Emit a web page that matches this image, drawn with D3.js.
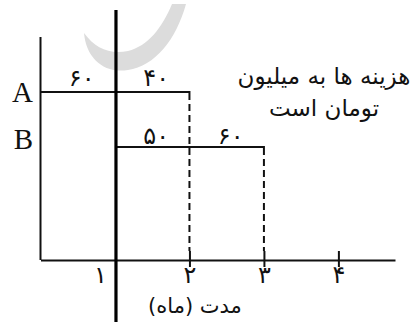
<!DOCTYPE html>
<html><head><meta charset="utf-8">
<script src="https://cdn.jsdelivr.net/npm/d3@7"></script>
<style>
html,body{margin:0;padding:0;background:#fff;}
svg{display:block;}
</style></head>
<body>
<script>
// ---- data ----
const activities = ["A", "B"];
const segStart = { A: [0, 1], B: [1, 2] };
const segEnd   = { A: [1, 2], B: [2, 3] };
const segCost  = { A: [60, 40], B: [50, 60] };
const monthTicks = [1, 2, 3, 4];
const xAxisTitle = "مدت (ماه)";
const noteLines = ["هزینه ها به میلیون", "تومان است"];
const todayMonth = 1;

const W = 414, H = 322;
const fa = n => String(n).replace(/\d/g, d => "۰۱۲۳۴۵۶۷۸۹"[d]);
const faFont = "'DejaVu Sans', 'Noto Sans', sans-serif";

const svg = d3.select("body").append("svg").attr("width", W).attr("height", H);

const x = d3.scaleLinear().domain([0, 4.76]).range([40.5, 395]);
const y = d3.scalePoint().domain(activities).range([92, 147]);
const yLabel = d3.scalePoint().domain(activities).range([92, 139]);
const axisY = 260;

// watermark
svg.append("path")
  .attr("d", "M84,33 C86,58 104,74 128,70 C155,66 176,40 186,4 L172,4 C162,28 148,46 128,51 C110,55 95,48 84,33 Z")
  .attr("fill", "#dcdcdc");

// left vertical axis
svg.append("line")
  .attr("x1", x(0)).attr("x2", x(0)).attr("y1", 37).attr("y2", axisY)
  .attr("stroke", "#111").attr("stroke-width", 2);

// x axis
const xAxis = d3.axisBottom(x).tickValues(monthTicks).tickSizeInner(8).tickSizeOuter(0).tickFormat(fa);
const gx = svg.append("g").attr("transform", `translate(0,${axisY})`).call(xAxis);
gx.select(".domain").attr("stroke", "#111").attr("stroke-width", 2);
gx.selectAll(".tick line").attr("y1", -9).attr("y2", 7).attr("stroke", "#111").attr("stroke-width", 2)
  .attr("display", d => d === todayMonth ? "none" : null);
gx.selectAll(".tick text").attr("y", 23).attr("dy", 0)
  .attr("dx", d => d === todayMonth ? -15 : 0)
  .style("font-family", faFont).style("font-size", "24px").attr("fill", "#111");

// axis title
svg.append("text").attr("x", 195).attr("y", 313).attr("text-anchor", "middle")
  .style("font-family", faFont).style("font-size", "21px").attr("fill", "#111")
  .text(xAxisTitle);

// activity bars
activities.forEach(a => {
  const s0 = segStart[a][0], e1 = segEnd[a][segEnd[a].length - 1];
  svg.append("line")
    .attr("x1", x(s0)).attr("x2", x(e1)).attr("y1", y(a)).attr("y2", y(a))
    .attr("stroke", "#111").attr("stroke-width", 2);
  svg.append("line")
    .attr("x1", x(e1)).attr("x2", x(e1)).attr("y1", y(a) - 1).attr("y2", y(a) + 8)
    .attr("stroke", "#111").attr("stroke-width", 2);
  svg.append("line")
    .attr("x1", x(e1)).attr("x2", x(e1)).attr("y1", y(a) + 12).attr("y2", axisY - 9)
    .attr("stroke", "#111").attr("stroke-width", 2).attr("stroke-dasharray", "7,4");
  segCost[a].forEach((c, i) => {
    svg.append("text")
      .attr("x", (x(segStart[a][i]) + x(segEnd[a][i])) / 2 + 4)
      .attr("y", y(a) - (a === "A" ? 6 : 3))
      .attr("text-anchor", "middle")
      .style("font-family", faFont).style("font-size", "24px").attr("fill", "#111")
      .text(fa(c));
  });
  svg.append("text").attr("x", 33).attr("y", yLabel(a) + 10).attr("text-anchor", "end")
    .style("font-family", "'Liberation Serif', serif").style("font-size", "29px").attr("fill", "#111")
    .text(a);
});

// today line
svg.append("line")
  .attr("x1", x(todayMonth) + 1).attr("x2", x(todayMonth) + 1).attr("y1", 10).attr("y2", H)
  .attr("stroke", "#000").attr("stroke-width", 3.2);

// note
svg.append("text").attr("text-anchor", "middle")
  .style("font-family", faFont).style("font-size", "23px").attr("fill", "#111")
  .selectAll("tspan").data(noteLines).join("tspan")
  .attr("x", 324).attr("y", (d, i) => 84 + i * 32).text(d => d);
</script>
</body></html>
